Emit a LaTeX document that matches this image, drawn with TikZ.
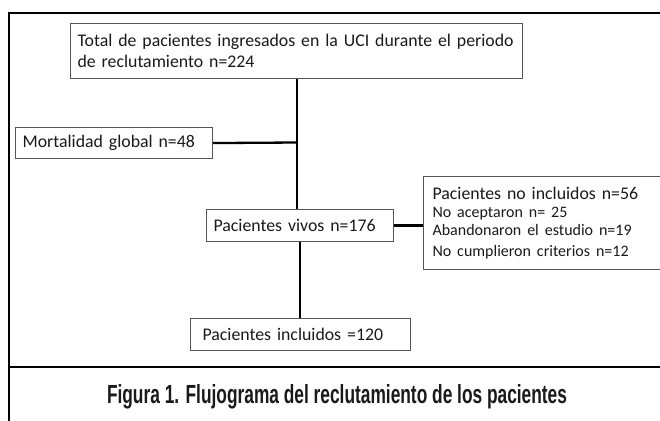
\documentclass[tikz,border=0pt]{standalone}
\usepackage{fontspec}
\usepackage{graphicx}
\setmainfont{Carlito}
\newfontfamily\capfont{Liberation Sans}
\definecolor{boxgray}{HTML}{555555}
\definecolor{txt}{HTML}{1A1A1A}
\newcommand\subfs{\fontsize{16}{18}\selectfont}
\begin{document}
\begin{tikzpicture}[x=1pt,y=-1pt,
  box/.style={draw=boxgray, line width=1.1pt, fill=white, anchor=north west,
    inner xsep=7pt, inner ysep=0pt, align=left, text=txt,
    font=\fontsize{17.8}{21}\selectfont},
  conn/.style={line width=2.3pt, black},
  frame/.style={line width=2.6pt, black}]
\useasboundingbox (0,0) rectangle (660,420);
\clip (0,0) rectangle (660,420);
\fill[white] (0,0) rectangle (660,420);
% outer frame and separator
\draw[frame] (720,13) -| (9,460);
\draw[frame] (9,367) -- (720,367);
% boxes
\node[box, text width=438pt, minimum height=55pt] (top) at (70,23)
  {Total de pacientes ingresados en la UCI durante el periodo\\de reclutamiento n=224};
\node[box, text width=183pt, minimum height=31pt] (mort) at (15,127)
  {Mortalidad global n=48};
\node[box, text width=173pt, minimum height=32pt] (vivos) at (206,209)
  {Pacientes vivos n=176};
\node[box, inner xsep=9pt, text width=260pt, minimum height=93pt] (noinc) at (423,176)
  {Pacientes no incluidos n=56\\\subfs No aceptaron n= 25\\\subfs Abandonaron el estudio n=19\\\subfs No cumplieron criterios n=12};
\node[box, inner xsep=12pt, text width=196pt, minimum height=32pt] (incl) at (190,318)
  {Pacientes incluidos =120};
% connectors
\coordinate (j) at (297,142.5);
\draw[conn] (top.south -| j) -- (vivos.north -| j);
\draw[conn] (mort.east) -- (j);
\draw[conn] (vivos.east) -- (vivos.east -| noinc.west);
\draw[conn] (vivos.south) -- (vivos.south |- incl.north);
% caption
\node[anchor=base, text=txt, inner sep=0pt] (cap) at (337,403)
  {\resizebox{460pt}{19pt}{\capfont\bfseries Figura 1. Flujograma del reclutamiento de los pacientes}};
\end{tikzpicture}
\end{document}
